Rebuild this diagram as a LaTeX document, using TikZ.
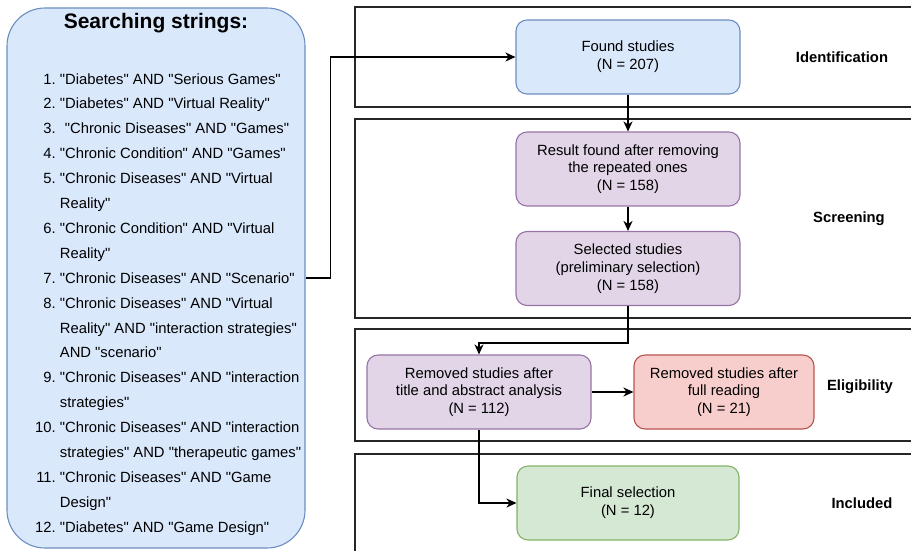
\documentclass[tikz,border=0pt]{standalone}
\usepackage{fontspec}
\setmainfont{Liberation Sans}[Ligatures=TeXOff]
\usetikzlibrary{positioning,arrows.meta}

\definecolor{blueFill}{HTML}{DAE8FC}
\definecolor{blueLine}{HTML}{6C8EBF}
\definecolor{purpleFill}{HTML}{E1D5E7}
\definecolor{purpleLine}{HTML}{9673A6}
\definecolor{redFill}{HTML}{F8CECC}
\definecolor{redLine}{HTML}{B85450}
\definecolor{greenFill}{HTML}{D5E8D4}
\definecolor{greenLine}{HTML}{82B366}

\tikzset{
	studyBox/.style={rectangle, rounded corners=11pt, line width=1.1pt, minimum width=224pt, minimum height=74pt, align=center, inner sep=2pt, font=\fontsize{14.8}{17.8}\selectfont},
	stageFrame/.style={draw=black!85, line width=1.6pt},
	stageLabel/.style={font=\fontsize{14.8}{17.6}\selectfont\bfseries},
	flowArrow/.style={draw=black, line width=1.4pt, -{Stealth[length=10pt, width=9pt, inset=3pt]}}
}

\begin{document}
\begin{tikzpicture}[x=1pt, y=-1pt]
	\clip (0,0) rectangle (911,550);
	% stage frames
	\draw[stageFrame] (355,7) rectangle (930,107);
	\draw[stageFrame] (355,119) rectangle (930,318);
	\draw[stageFrame] (355,329) rectangle (930,441);
	\draw[stageFrame] (355,454) rectangle (930,580);
	\node[stageLabel](identLabel) at (842,57){Identification};
	\node[stageLabel](screenLabel) at (849,219){Screening};
	\node[stageLabel](eligLabel) at (860,387){Eligibility};
	\node[stageLabel](inclLabel) at (862,503){Included};

	% searching strings
	\node[rectangle, draw=blueLine, fill=blueFill, line width=1.1pt, rounded corners=38pt, minimum width=298pt, minimum height=540pt](searchBox) at (156,278){};
	\node[font=\fontsize{21}{24}\selectfont\bfseries](searchTitle) at (156,23){Searching strings:};
	\node[anchor=north west, inner sep=0pt, font=\fontsize{14.8}{24.9}\selectfont](searchList) at (35,66.4){%
		\begin{tabular}{@{}r@{\ }l@{}}
			1. & "Diabetes" AND "Serious Games"\\
			2. & "Diabetes" AND "Virtual Reality"\\
			3. & \hspace{5pt}"Chronic Diseases" AND "Games"\\
			4. & "Chronic Condition" AND "Games"\\
			5. & "Chronic Diseases" AND "Virtual\\
			   & Reality"\\
			6. & "Chronic Condition" AND "Virtual\\
			   & Reality"\\
			7. & "Chronic Diseases" AND "Scenario"\\
			8. & "Chronic Diseases" AND "Virtual\\
			   & Reality" AND "interaction strategies"\\
			   & AND "scenario"\\
			9. & "Chronic Diseases" AND "interaction\\
			   & strategies"\\
			10. & "Chronic Diseases" AND "interaction\\
			    & strategies" AND "therapeutic games"\\
			11. & "Chronic Diseases" AND "Game\\
			    & Design"\\
			12. & "Diabetes" AND "Game Design"
		\end{tabular}};

	% studies
	\node[studyBox, draw=blueLine, fill=blueFill](foundBox) at (628,57){Found studies\\(N = 207)};
	\node[studyBox, draw=purpleLine, fill=purpleFill](resultBox) at (628,169){Result found after removing\\the repeated ones\\(N = 158)};
	\node[studyBox, draw=purpleLine, fill=purpleFill](selectedBox) at (628,268.5){Selected studies\\(preliminary selection)\\(N = 158)};
	\node[studyBox, draw=purpleLine, fill=purpleFill](removedBox) at (479,392){Removed studies after\\title and abstract analysis\\(N = 112)};
	\node[studyBox, draw=redLine, fill=redFill, minimum width=180pt](readingBox) at (724,392){Removed studies after\\full reading\\(N = 21)};
	\node[studyBox, draw=greenLine, fill=greenFill, minimum width=222pt](finalBox) at (628,503){Final selection\\(N = 12)};

	\draw[flowArrow] (searchBox.east) -- ++(25,0) |- (foundBox.west);
	\draw[flowArrow] (foundBox) -- (resultBox);
	\draw[flowArrow] (resultBox) -- (selectedBox);
	\draw[flowArrow] (selectedBox.south) -- ++(0,37) -| (removedBox.north);
	\draw[flowArrow] (removedBox) -- (readingBox);
	\draw[flowArrow] (removedBox.south) |- (finalBox.west);
\end{tikzpicture}
\end{document}
